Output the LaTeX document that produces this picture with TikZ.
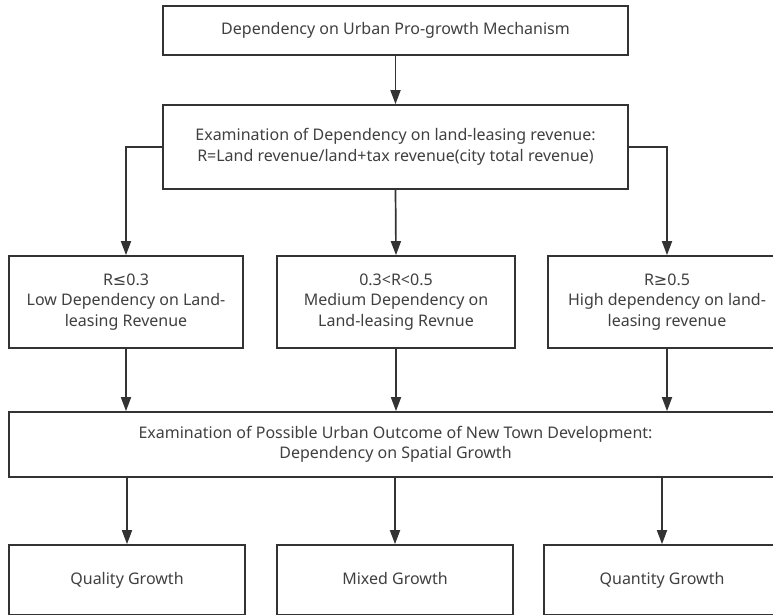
\documentclass[tikz,border=0pt]{standalone}
\usepackage{fontspec}
\setmainfont{Noto Sans}
\newfontfamily\symfont{DejaVu Sans}
\usepackage{xcolor}
\usepackage{tikz}
\usetikzlibrary{arrows.meta,positioning,calc}

\definecolor{linegray}{HTML}{333333}
\definecolor{textgray}{HTML}{404040}

\tikzset{
  box/.style={draw=linegray, line width=1.7pt, fill=white, text=textgray,
    align=center, inner sep=0pt, font=\fontsize{16}{20.5}\selectfont},
  flow/.style={draw=linegray, line width=1.7pt,
    -{Triangle[length=14pt, width=10pt]}},
  link/.style={draw=linegray, line width=1.7pt}
}

\begin{document}
\begin{tikzpicture}[x=1pt, y=-1pt]
    % picture frame, px-like units (y grows downwards)
    \useasboundingbox (0,0) rectangle (773,614);
    \clip (0,0) rectangle (773,614);

    % Pro-growth mechanism and examination of land revenue
    \node[box, minimum width=465pt, minimum height=49pt] (mech) at (395.5,30.5)
        {Dependency on Urban Pro-growth Mechanism};
    \node[box, minimum width=465pt, minimum height=84pt] (exam) at (395.5,147)
        {Examination of Dependency on land-leasing revenue:\\
         R=Land revenue/land+tax revenue(city total revenue)};

    % Three levels of dependency
    \node[box, minimum width=234pt, minimum height=92pt] (low) at (126,302)
        {R{\symfont ≤}0.3\\ Low Dependency on Land-\\ leasing Revenue};
    \node[box, minimum width=238pt, minimum height=92pt] (medium) at (396,302)
        {0.3<R<0.5\\ Medium Dependency on\\ Land-leasing Revnue};
    \node[box, minimum width=238pt, minimum height=92pt] (high) at (667,302)
        {R{\symfont ≥}0.5\\ High dependency on land-\\ leasing revenue};

    % Examination of spatial growth
    \node[box, minimum width=773pt, minimum height=65pt] (outcome) at (395.5,444.5)
        {Examination of Possible Urban Outcome of New Town Development:\\
         Dependency on Spatial Growth};

    % Outcomes
    \node[box, minimum width=236pt, minimum height=70pt] (quality) at (127,580)
        {\strut Quality Growth};
    \node[box, minimum width=236pt, minimum height=70pt] (mixed) at (395,580)
        {\strut Mixed Growth};
    \node[box, minimum width=236pt, minimum height=70pt] (quantity) at (662,580)
        {\strut Quantity Growth};

    % Connectors
    \draw[flow] (mech.south) -- (exam.north);
    \draw[flow] (exam.west) -| (low.north);
    \draw[flow] (exam.south) -- (medium.north);
    \draw[flow] (exam.east) -| (high.north);
    \foreach \lvl in {low,medium,high}
        \draw[flow] (\lvl.south) -- (\lvl.south |- outcome.north);
    \foreach \res in {quality,mixed,quantity}
        \draw[flow] (\res.north |- outcome.south) -- (\res.north);
\end{tikzpicture}
\end{document}
